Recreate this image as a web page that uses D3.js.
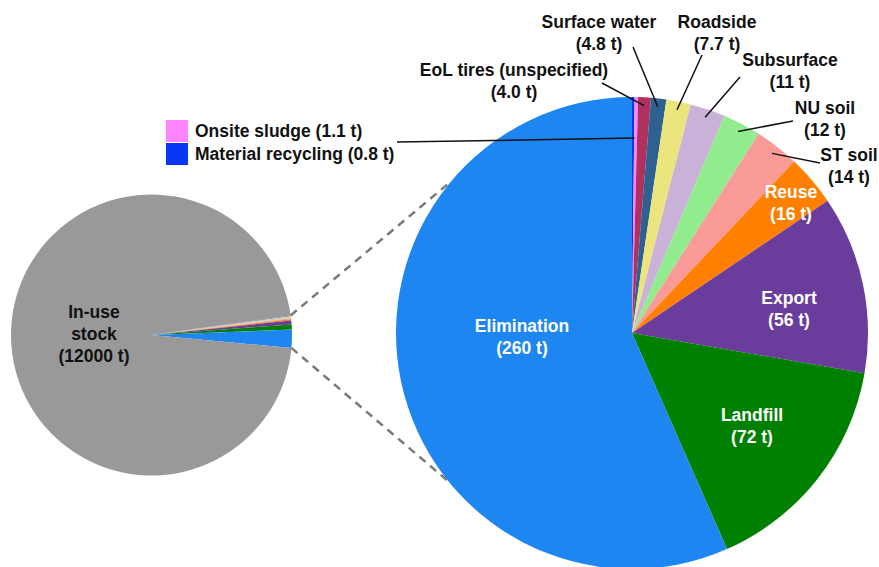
<!DOCTYPE html>
<html>
<head>
<meta charset="utf-8">
<script src="https://cdn.jsdelivr.net/npm/d3@7"></script>
<style>
  html, body { margin: 0; padding: 0; background: #fff; }
  svg { display: block; }
  text { font-family: "Liberation Sans", Arial, sans-serif; font-weight: bold; }
</style>
</head>
<body>
<svg id="chart" width="879" height="567"></svg>
<script>
// ---------------- data ----------------
const categories = ["Material recycling", "Onsite sludge", "EoL tires (unspecified)", "Surface water",
  "Roadside", "Subsurface", "NU soil", "ST soil", "Reuse", "Export", "Landfill", "Elimination"];
const values = [0.8, 1.1, 4.0, 4.8, 7.7, 11, 12, 14, 16, 56, 72, 260];
const valueTexts = ["0.8 t", "1.1 t", "4.0 t", "4.8 t", "7.7 t", "11 t", "12 t", "14 t", "16 t", "56 t", "72 t", "260 t"];
const stockCategory = "In-use stock";
const stockValue = 12000;
const stockText = "12000 t";

// ---------------- styles / layout ----------------
const colors = ["#0a36f5", "#ff84ff", "#b0305f", "#2f6190", "#ece47c", "#c9b1d7", "#90ec8c",
  "#fa9b98", "#ff8000", "#6a3c9c", "#008000", "#1e86f0"];
const stockColor = "#999999";

const W = 879, H = 567;
const small = { cx: 151.5, cy: 335, r: 140.5, start: 82 * Math.PI / 180 };
const big = { cx: 632, cy: 333, r: 236 };
const fontSize = 17.5, lineGap = 22;

// label layout: category -> [lines], x, first baseline y, fill, leader outer end (or null)
const labelLayout = {
  "Elimination":             { lines: ["Elimination"],             x: 522, y: 332, fill: "#fff" },
  "Landfill":                { lines: ["Landfill"],                x: 752, y: 421, fill: "#fff" },
  "Export":                  { lines: ["Export"],                  x: 789, y: 304, fill: "#fff" },
  "Reuse":                   { lines: ["Reuse"],                   x: 791, y: 198, fill: "#fff" },
  "ST soil":                 { lines: ["ST soil"],                 x: 849, y: 161, fill: "#111", end: [820, 163] },
  "NU soil":                 { lines: ["NU soil"],                 x: 825, y: 114, fill: "#111", end: [793, 121] },
  "Subsurface":              { lines: ["Subsurface"],              x: 790, y: 66,  fill: "#111", end: [740, 77] },
  "Roadside":                { lines: ["Roadside"],                x: 717, y: 28,  fill: "#111", end: [702, 55] },
  "Surface water":           { lines: ["Surface water"],           x: 599, y: 28,  fill: "#111", end: [633, 47] },
  "EoL tires (unspecified)": { lines: ["EoL tires (unspecified)"], x: 514, y: 76,  fill: "#111", end: [602, 83] }
};
const legendItems = ["Onsite sludge", "Material recycling"];
const legendPos = { x: 166, y: 120, box: 22, gap: 1, textX: 195 };
const legendLeaderStart = [397, 142];
const connectorAngles = [310 * Math.PI / 180, 231 * Math.PI / 180];

// ---------------- drawing ----------------
const svg = d3.select("#chart");

// Left pie (stock + all flows)
const leftData = values.map((v, i) => ({ name: categories[i], value: v, color: colors[i] }))
  .concat([{ name: stockCategory, value: stockValue, color: stockColor }]);
const leftPie = d3.pie().sort(null).value(d => d.value)
  .startAngle(small.start).endAngle(small.start + 2 * Math.PI);
const leftArcs = leftPie(leftData);
const leftArc = d3.arc().innerRadius(0).outerRadius(small.r);
const gL = svg.append("g").attr("transform", `translate(${small.cx},${small.cy})`);
gL.selectAll("path").data(leftArcs).join("path")
  .attr("d", leftArc).attr("fill", d => d.data.color);

// stock label
const stockLabel = gL.append("text").attr("text-anchor", "middle").attr("font-size", fontSize).attr("fill", "#111");
["In-use", "stock", `(${stockText})`].forEach((t, i) => {
  stockLabel.append("tspan").attr("x", 94 - small.cx).attr("y", 318 - small.cy + i * lineGap).text(t);
});

// Right pie (flows only)
const rightData = values.map((v, i) => ({ name: categories[i], value: v, color: colors[i], text: valueTexts[i] }));
const rightPie = d3.pie().sort(null).value(d => d.value).startAngle(0).endAngle(2 * Math.PI);
const rightArcs = rightPie(rightData);
const rightArc = d3.arc().innerRadius(0).outerRadius(big.r);

// dashed connectors: from edges of the flow wedge in the left pie to the big pie
const flowArcs = leftArcs.filter(d => d.data.name !== stockCategory);
const wedgeStart = d3.min(flowArcs, d => d.startAngle);
const wedgeEnd = d3.max(flowArcs, d => d.endAngle);
const polar = (cx, cy, r, a) => [cx + r * Math.sin(a), cy - r * Math.cos(a)];
const conn = [
  [polar(small.cx, small.cy, small.r, wedgeStart), polar(big.cx, big.cy, big.r, connectorAngles[0])],
  [polar(small.cx, small.cy, small.r, wedgeEnd), polar(big.cx, big.cy, big.r, connectorAngles[1])]
];
svg.append("g").selectAll("line").data(conn).join("line")
  .attr("x1", d => d[0][0]).attr("y1", d => d[0][1])
  .attr("x2", d => d[1][0]).attr("y2", d => d[1][1])
  .attr("stroke", "#7a7a7a").attr("stroke-width", 2.5).attr("stroke-dasharray", "8,6");

const gR = svg.append("g").attr("transform", `translate(${big.cx},${big.cy})`);
gR.selectAll("path").data(rightArcs).join("path")
  .attr("d", rightArc).attr("fill", d => d.data.color);

// leader lines for outside labels
const leaderR = big.r * 0.965;
const leaders = rightArcs.filter(d => labelLayout[d.data.name] && labelLayout[d.data.name].end).map(d => {
  const a = (d.startAngle + d.endAngle) / 2;
  return { from: polar(big.cx, big.cy, leaderR, a), to: labelLayout[d.data.name].end };
});
// legend leader points to the two tiny slices
const tiny = rightArcs.filter(d => legendItems.includes(d.data.name));
const tinyMid = (d3.min(tiny, d => d.startAngle) + d3.max(tiny, d => d.endAngle)) / 2;
leaders.push({ from: polar(big.cx, big.cy, big.r * 0.826, tinyMid), to: legendLeaderStart });

svg.append("g").selectAll("line").data(leaders).join("line")
  .attr("x1", d => d.to[0]).attr("y1", d => d.to[1])
  .attr("x2", d => d.from[0]).attr("y2", d => d.from[1])
  .attr("stroke", "#111").attr("stroke-width", 1.5);

// slice labels
const labG = svg.append("g").attr("font-size", fontSize).attr("text-anchor", "middle");
rightArcs.forEach(d => {
  const L = labelLayout[d.data.name];
  if (!L) return;
  const t = labG.append("text").attr("fill", L.fill);
  L.lines.concat([`(${d.data.text})`]).forEach((s, i) => {
    t.append("tspan").attr("x", L.x).attr("y", L.y + i * lineGap).text(s);
  });
});

// legend
const legG = svg.append("g").attr("font-size", fontSize);
legendItems.forEach((name, i) => {
  const idx = categories.indexOf(name);
  const y = legendPos.y + i * (legendPos.box + legendPos.gap);
  legG.append("rect").attr("x", legendPos.x).attr("y", y)
    .attr("width", legendPos.box).attr("height", legendPos.box).attr("fill", colors[idx]);
  legG.append("text").attr("x", legendPos.textX).attr("y", y + legendPos.box / 2 + 6)
    .attr("fill", "#111").text(`${name} (${valueTexts[idx]})`);
});
</script>
</body>
</html>
